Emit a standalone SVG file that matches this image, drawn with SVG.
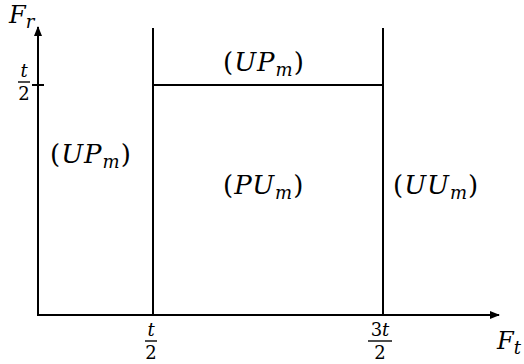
<svg xmlns="http://www.w3.org/2000/svg" width="524" height="364" viewBox="0 0 524 364">
<style>
.ln{stroke:#000;stroke-width:2;fill:none}
.bar{stroke:#000;stroke-width:1.4}
.t{font-family:"DejaVu Serif",serif;font-size:26px;fill:#000}
.ax{font-size:24px}
.lab{letter-spacing:1px}
.i{font-style:italic}
.s{font-size:18px}
.f{font-size:18px}
</style>
<defs>
<marker id="ah" viewBox="0 0 10 10" refX="9" refY="5" markerWidth="5" markerHeight="5" orient="auto" markerUnits="strokeWidth">
<path d="M0,1 L10,5 L0,9 Z" fill="#000"/>
</marker>
</defs>
<rect width="524" height="364" fill="#fff"/>
<g id="connectors">
<line class="ln" x1="38" y1="316" x2="38" y2="27" marker-end="url(#ah)"/>
<line class="ln" x1="37" y1="315" x2="499" y2="315" marker-end="url(#ah)"/>
<line class="ln" x1="153" y1="28" x2="153" y2="316"/>
<line class="ln" x1="383" y1="28" x2="383" y2="316"/>
<line class="ln" x1="153" y1="85" x2="383" y2="85"/>
<line class="ln" x1="32" y1="85" x2="44" y2="85"/>
<line class="bar" x1="18" y1="82" x2="30" y2="82"/>
<line class="bar" x1="145" y1="341" x2="157" y2="341"/>
<line class="bar" x1="368" y1="341" x2="392" y2="341"/>
</g>
<g id="axis-labels">
<text x="9" y="23" class="t ax i">F<tspan class="s" dy="5">r</tspan></text>
<text x="497" y="349" class="t ax i">F<tspan class="s" dy="5">t</tspan></text>
<text x="24" y="77" class="t i f" text-anchor="middle">t</text>
<text x="24" y="100" class="t f" text-anchor="middle">2</text>
<text x="151" y="336" class="t i f" text-anchor="middle">t</text>
<text x="151" y="359" class="t f" text-anchor="middle">2</text>
<text x="380" y="336" class="t f" text-anchor="middle">3<tspan class="i">t</tspan></text>
<text x="380" y="359" class="t f" text-anchor="middle">2</text>
</g>
<g id="region-top">
<text x="223" y="71" class="t lab">(<tspan class="i">UP</tspan><tspan class="i s" dy="5">m</tspan><tspan dy="-5">)</tspan></text>
</g>
<g id="region-left">
<text x="50" y="163" class="t lab">(<tspan class="i">UP</tspan><tspan class="i s" dy="5">m</tspan><tspan dy="-5">)</tspan></text>
</g>
<g id="region-center">
<text x="223" y="194" class="t lab">(<tspan class="i">PU</tspan><tspan class="i s" dy="5">m</tspan><tspan dy="-5">)</tspan></text>
</g>
<g id="region-right">
<text x="393" y="194" class="t lab">(<tspan class="i">UU</tspan><tspan class="i s" dy="5">m</tspan><tspan dy="-5">)</tspan></text>
</g>
</svg>
